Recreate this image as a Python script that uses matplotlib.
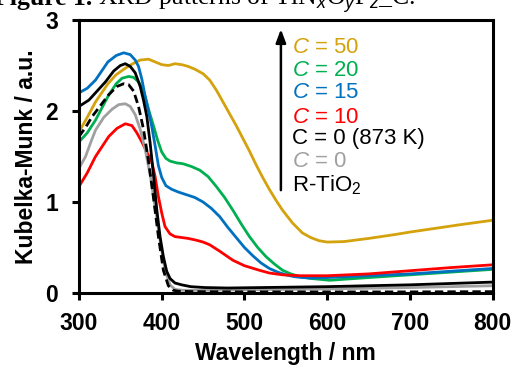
import matplotlib
matplotlib.use("Agg")
import matplotlib.pyplot as plt

plt.rcParams['font.family'] = ['Liberation Sans', 'DejaVu Sans']
plt.rcParams['mathtext.fontset'] = 'custom'
plt.rcParams['mathtext.rm'] = 'Liberation Sans'
plt.rcParams['mathtext.it'] = 'Liberation Sans:italic'
plt.rcParams['mathtext.bf'] = 'Liberation Sans:bold'

# C = 50
wl_c50 = [300, 310, 320, 335, 345, 356, 365, 374, 384, 392, 400, 408, 416, 424, 432, 440, 450, 458, 466,
          474, 482, 490, 498, 506, 514, 522, 530, 538, 546, 558, 570, 580, 590, 600, 620, 650, 680, 700,
          730, 760, 800]
km_c50 = [1.77, 1.93, 2.10, 2.30, 2.40, 2.47, 2.52, 2.56, 2.57, 2.54, 2.51, 2.50, 2.52, 2.51, 2.49, 2.46,
          2.41, 2.34, 2.23, 2.10, 1.97, 1.84, 1.70, 1.56, 1.41, 1.27, 1.14, 1.02, 0.91, 0.77, 0.66, 0.61,
          0.575, 0.56, 0.565, 0.60, 0.64, 0.67, 0.71, 0.75, 0.80]

# C = 20
wl_c20 = [300, 310, 320, 335, 345, 352, 360, 366, 372, 376, 380, 385, 390, 395, 400, 405, 410, 418, 426,
          436, 446, 456, 466, 476, 486, 496, 506, 516, 526, 536, 546, 556, 567, 580, 603, 650, 700, 750, 800]
km_c20 = [1.66, 1.76, 1.90, 2.16, 2.30, 2.36, 2.38, 2.37, 2.32, 2.26, 2.16, 1.99, 1.84, 1.68, 1.55, 1.48,
          1.45, 1.43, 1.42, 1.39, 1.35, 1.28, 1.17, 1.05, 0.91, 0.76, 0.62, 0.50, 0.40, 0.32, 0.25, 0.21,
          0.18, 0.16, 0.14, 0.17, 0.20, 0.23, 0.26]

# C = 15
wl_c15 = [300, 310, 320, 335, 345, 354, 362, 368, 372, 376, 380, 384, 388, 392, 396, 400, 405, 412, 420,
          430, 440, 450, 460, 470, 480, 490, 500, 510, 520, 530, 540, 550, 560, 570, 580, 600, 650, 700,
          750, 800]
km_c15 = [2.20, 2.25, 2.34, 2.54, 2.61, 2.64, 2.62, 2.56, 2.49, 2.35, 2.16, 2.00, 1.83, 1.62, 1.40, 1.27,
          1.18, 1.14, 1.11, 1.08, 1.05, 1.00, 0.93, 0.84, 0.72, 0.61, 0.50, 0.41, 0.33, 0.27, 0.23, 0.20,
          0.18, 0.17, 0.165, 0.17, 0.19, 0.21, 0.24, 0.27]

# C = 10
wl_c10 = [300, 310, 320, 336, 346, 356, 364, 370, 376, 382, 388, 392, 396, 400, 404, 410, 416, 424, 432,
          442, 450, 458, 470, 486, 500, 518, 530, 546, 567, 600, 650, 700, 750, 800]
km_c10 = [1.17, 1.32, 1.50, 1.72, 1.81, 1.86, 1.84, 1.76, 1.66, 1.55, 1.44, 1.28, 1.06, 0.88, 0.73, 0.65,
          0.62, 0.61, 0.60, 0.58, 0.56, 0.53, 0.46, 0.36, 0.30, 0.25, 0.22, 0.20, 0.19, 0.19, 0.21, 0.245,
          0.28, 0.31]

# C = 0 (873 K)
wl_c0h = [300, 312, 320, 332, 342, 350, 356, 362, 368, 374, 378, 382, 386, 390, 394, 398, 402, 406, 410,
          416, 424, 435, 452, 480, 520, 600, 700, 800]
km_c0h = [2.05, 2.12, 2.20, 2.32, 2.44, 2.50, 2.52, 2.49, 2.42, 2.27, 2.12, 1.94, 1.65, 1.30, 0.92, 0.62,
          0.40, 0.24, 0.16, 0.11, 0.09, 0.07, 0.06, 0.055, 0.06, 0.07, 0.09, 0.12]

# C = 0
wl_c0 = [300, 308, 314, 320, 330, 340, 348, 356, 362, 368, 374, 380, 386, 392, 398, 404, 410, 416, 425,
         450, 500, 600, 700, 800]
km_c0 = [1.37, 1.50, 1.65, 1.79, 1.93, 2.02, 2.07, 2.08, 2.05, 1.96, 1.80, 1.58, 1.30, 0.95, 0.58, 0.25,
         0.09, 0.04, 0.03, 0.03, 0.035, 0.045, 0.06, 0.08]

# R-TiO2
wl_rt = [300, 308, 316, 326, 336, 346, 354, 360, 366, 372, 378, 384, 390, 396, 402, 408, 414, 420, 440,
         500, 600, 700, 800]
km_rt = [1.72, 1.82, 1.94, 2.06, 2.18, 2.27, 2.30, 2.29, 2.22, 2.05, 1.80, 1.45, 1.05, 0.62, 0.25, 0.08,
         0.03, 0.02, 0.015, 0.012, 0.012, 0.012, 0.015]

gold = "#D4A20C"
green = "#00B050"
blue = "#0070C0"
red = "#FF0000"
grey = "#A0A0A0"

fig = plt.figure(figsize=(5.16, 3.71), dpi=100)
ax = fig.add_axes([0.153, 0.2102, 0.802, 0.7358])

lw = 2.0
ax.plot(wl_c50, km_c50, color=gold, lw=lw)
ax.plot(wl_c20, km_c20, color=green, lw=lw)
ax.plot(wl_c15, km_c15, color=blue, lw=lw)
ax.plot(wl_c10, km_c10, color=red, lw=lw)
ax.plot(wl_c0, km_c0, color=grey, lw=lw)
ax.plot(wl_c0h, km_c0h, color="black", lw=lw)
ax.plot(wl_rt, km_rt, color="black", lw=lw, dashes=(3, 1.5))

ax.set_xlim(300, 800)
ax.set_ylim(0, 3)
ax.set_xticks([300, 400, 500, 600, 700, 800])
ax.set_yticks([0, 1, 2, 3])
for s in ax.spines.values():
    s.set_linewidth(2.2)
ax.tick_params(direction="out", length=5, width=2.2, labelsize=16.5)
ax.tick_params(axis="y", pad=10)
ax.tick_params(axis="x", pad=9)
for t in ax.get_xticklabels() + ax.get_yticklabels():
    t.set_fontweight("bold")

ax.set_xlabel("Wavelength / nm", fontsize=16.5, fontweight="bold", labelpad=5)
ax.set_ylabel("Kubelka-Munk / a.u.", fontsize=16.5, fontweight="bold", labelpad=5)

# legend with arrow
ax.annotate("", xy=(544, 2.93), xytext=(544, 1.10),
            arrowprops=dict(arrowstyle="-|>,head_width=0.3,head_length=0.8", color="black", lw=1.8))
labels = [r"$C$ = 50", r"$C$ = 20", r"$C$ = 15", r"$C$ = 10", r"C = 0 (873 K)", r"$C$ = 0", r"R-TiO$_2$"]
colors = [gold, green, blue, red, "black", grey, "black"]
ys = [2.70, 2.45, 2.20, 1.93, 1.70, 1.44, 1.19]
for lab, c, y in zip(labels, colors, ys):
    ax.text(557, y, lab, color=c, fontsize=16, va="center", ha="left")

# caption of the page, cut off at the top as in the source
fig.text(92 / 516, 1 - 5 / 371, "Figure 1.", fontsize=18.5, fontweight="bold",
         family="Liberation Serif", va="baseline", ha="right")
fig.text(98 / 516, 1 - 5 / 371, r"XRD patterns of TiN$_x$O$_y$F$_z$_C.", fontsize=18.5,
         family="Liberation Serif", va="baseline", ha="left")

fig.savefig("out.png", dpi=100)
